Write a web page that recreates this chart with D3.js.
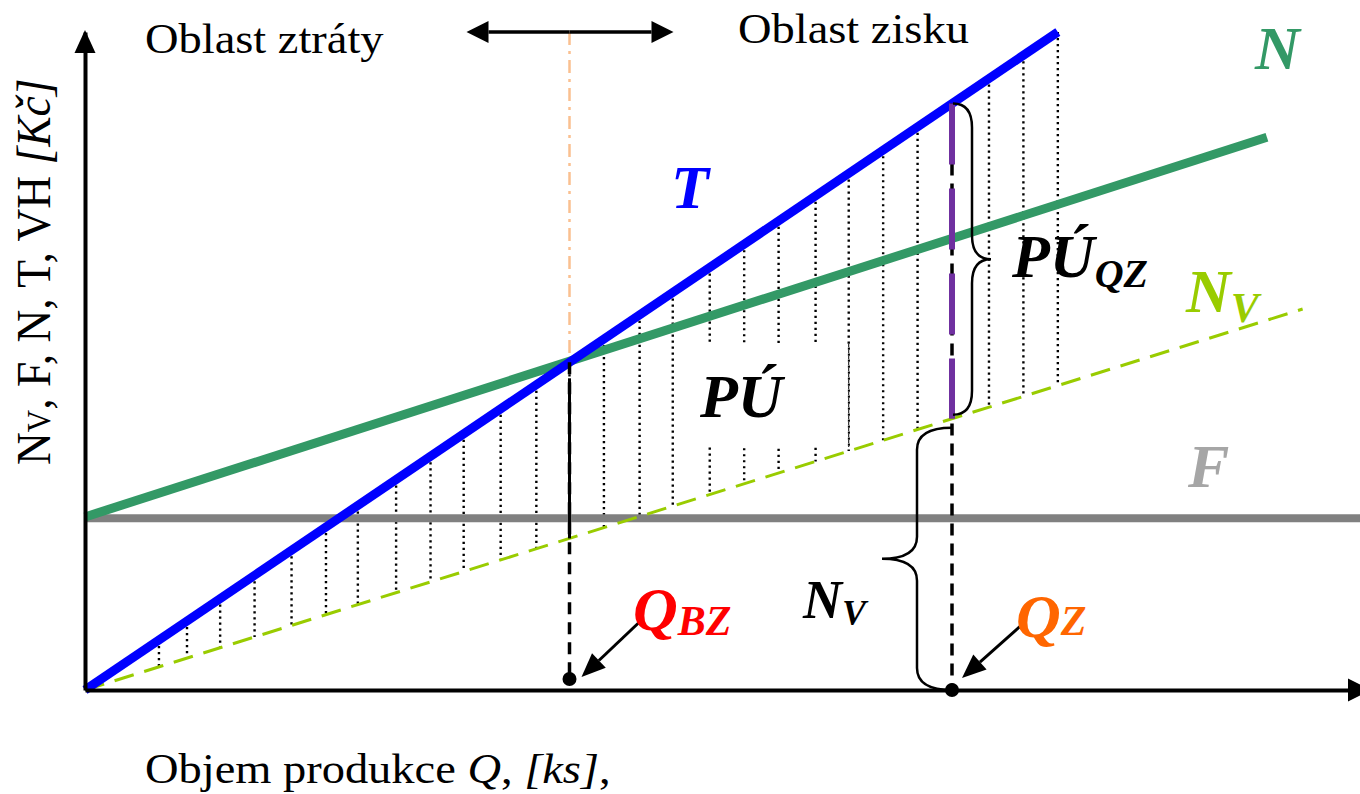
<!DOCTYPE html>
<html>
<head>
<meta charset="utf-8">
<script src="https://cdnjs.cloudflare.com/ajax/libs/d3/7.8.5/d3.min.js"></script>
<style>
  body { margin: 0; background: #fff; }
  svg { display: block; }
  text { font-family: "Liberation Serif", "Times New Roman", serif; }
</style>
</head>
<body>
<svg width="1360" height="794"></svg>
<script>
// values (Q in ks, values in Kc, both on 0..100 scales)
var qDomain = [0, 100];
var valDomain = [0, 100];
var fixedCost = 26.1;                         // F
var revenuePts = [[0, 0], [76.3, 100]];       // T
var totalCostPts = [[0, 26.3], [92.7, 84.0]]; // N
var varCostPts = [[0, 0], [95.5, 57.9]];      // Nv
var qBZ = 38.0;   // break-even
var qZ = 68.0;    // chosen volume
var hatchQ = [5.8, 8.0, 10.6, 13.3, 16.2, 18.9, 21.4, 24.4, 27.1, 29.7, 32.6, 35.4, 38.0,
              40.7, 43.5, 46.1, 49.0, 51.7, 54.4, 57.3, 59.9, 62.6, 65.3, 70.9, 73.6, 76.3];
var boxEdgeQ = 59.9;

var svg = d3.select("svg"),
    width = +svg.attr("width"),
    height = +svg.attr("height");

var x = d3.scaleLinear().domain(qDomain).range([85, 1360]);
var y = d3.scaleLinear().domain(valDomain).range([690, 32]);

function valueAt(pts, q) {
  var a = pts[0], b = pts[1];
  return a[1] + (b[1] - a[1]) * (q - a[0]) / (b[0] - a[0]);
}
var line = d3.line().x(function(d) { return x(d[0]); }).y(function(d) { return y(d[1]); });

// hatching between T and Nv
svg.append("g")
  .selectAll("line")
  .data(hatchQ)
  .enter().append("line")
    .attr("x1", function(d) { return x(d); })
    .attr("x2", function(d) { return x(d); })
    .attr("y1", function(d) { return y(valueAt(revenuePts, d)); })
    .attr("y2", function(d) { return y(valueAt(varCostPts, d)); })
    .attr("stroke", "#000")
    .attr("stroke-width", 2.4)
    .attr("stroke-dasharray", "2.2,3.8");

// white box behind PU label
var puX = 700, puY = 417;
svg.append("rect")
  .attr("x", puX - 5).attr("y", puY - 73)
  .attr("width", x(boxEdgeQ) - puX + 4).attr("height", 103)
  .attr("fill", "#fff");
svg.append("line")
  .attr("x1", x(boxEdgeQ)).attr("x2", x(boxEdgeQ))
  .attr("y1", puY - 73).attr("y2", puY + 30)
  .attr("stroke", "#000").attr("stroke-width", 1).attr("stroke-dasharray", "3,3");

// F
svg.append("path")
  .datum([[0, fixedCost], [qDomain[1], fixedCost]])
  .attr("d", line).attr("fill", "none")
  .attr("stroke", "#808080").attr("stroke-width", 8);

// Nv
svg.append("path")
  .datum(varCostPts)
  .attr("d", line).attr("fill", "none")
  .attr("stroke", "#99CC00").attr("stroke-width", 3)
  .attr("stroke-dasharray", "20,11");

// N
svg.append("path")
  .datum(totalCostPts)
  .attr("d", line).attr("fill", "none")
  .attr("stroke", "#339966").attr("stroke-width", 9);

// T
svg.append("path")
  .datum(revenuePts)
  .attr("d", line).attr("fill", "none")
  .attr("stroke", "#0000FF").attr("stroke-width", 9);

// orange dash-dot guide above break-even
var bzTop = y(valueAt(revenuePts, qBZ));
svg.append("line")
  .attr("x1", x(qBZ)).attr("x2", x(qBZ))
  .attr("y1", y(valDomain[1])).attr("y2", bzTop - 4)
  .attr("stroke", "#FAC090").attr("stroke-width", 2.5)
  .attr("stroke-dasharray", "13,6,3,6");

// break-even drop line (solid part over the hatched area, dashed below)
var bzNv = y(valueAt(varCostPts, qBZ));
svg.append("line")
  .attr("x1", x(qBZ)).attr("x2", x(qBZ))
  .attr("y1", bzTop + 16).attr("y2", bzNv)
  .attr("stroke", "#000").attr("stroke-width", 3);
svg.append("line")
  .attr("x1", x(qBZ)).attr("x2", x(qBZ))
  .attr("y1", bzTop).attr("y2", y(0) - 11)
  .attr("stroke", "#000").attr("stroke-width", 3.5)
  .attr("stroke-dasharray", "12,8");

// Qz drop line + purple profit segment
var zTop = y(valueAt(revenuePts, qZ)), zNv = y(valueAt(varCostPts, qZ));
svg.append("line")
  .attr("x1", x(qZ)).attr("x2", x(qZ))
  .attr("y1", zTop).attr("y2", y(0))
  .attr("stroke", "#000").attr("stroke-width", 3.5)
  .attr("stroke-dasharray", "12,8");
svg.append("line")
  .attr("x1", x(qZ)).attr("x2", x(qZ))
  .attr("y1", zTop).attr("y2", zNv)
  .attr("stroke", "#7030A0").attr("stroke-width", 6)
  .attr("stroke-dasharray", "61,24");

// curly braces
function brace(bx, y1, y2, dir, q, d, r) {
  var ym = (y1 + y2) / 2, xq = bx + dir * q, xd = bx + dir * d;
  return "M" + bx + "," + y1 +
    "Q" + xq + "," + y1 + " " + xq + "," + (y1 + r) +
    "L" + xq + "," + (ym - r) +
    "Q" + xq + "," + ym + " " + xd + "," + ym +
    "Q" + xq + "," + ym + " " + xq + "," + (ym + r) +
    "L" + xq + "," + (y2 - r) +
    "Q" + xq + "," + y2 + " " + bx + "," + y2;
}
svg.append("path")
  .attr("d", brace(x(qZ) + 1, zTop, zNv - 4, 1, 19, 38, 24))
  .attr("fill", "none").attr("stroke", "#000").attr("stroke-width", 2.5);
svg.append("path")
  .attr("d", brace(x(qZ), zNv + 9, y(0), -1, 35, 70, 22))
  .attr("fill", "none").attr("stroke", "#000").attr("stroke-width", 2.5);

// axes
var gx = svg.append("g").attr("transform", "translate(0," + y(0) + ")")
  .call(d3.axisBottom(x).tickValues([]).tickSizeOuter(0));
var gy = svg.append("g").attr("transform", "translate(" + x(0) + ",0)")
  .call(d3.axisLeft(y).tickValues([]).tickSizeOuter(0));
svg.selectAll(".domain").attr("stroke", "#000").attr("stroke-width", 4);
svg.append("path")
  .attr("d", "M" + x(0) + "," + (y(valDomain[1]) - 2) + "l-10.5,23h21z").attr("fill", "#000");
svg.append("path")
  .attr("d", "M1371," + y(0) + "l-23,-11.5v23z").attr("fill", "#000");

// points on the Q axis
svg.append("circle").attr("cx", x(qBZ)).attr("cy", y(0) - 11).attr("r", 7).attr("fill", "#000");
svg.append("circle").attr("cx", x(qZ)).attr("cy", y(0)).attr("r", 7).attr("fill", "#000");

// arrows
function arrow(sx, sy, tx, ty, L, w, sw) {
  var dx = tx - sx, dy = ty - sy, len = Math.sqrt(dx * dx + dy * dy);
  var ux = dx / len, uy = dy / len, nx = -uy, ny = ux;
  var bx = tx - ux * L, by = ty - uy * L;
  svg.append("line").attr("x1", sx).attr("y1", sy).attr("x2", bx).attr("y2", by)
    .attr("stroke", "#000").attr("stroke-width", sw);
  svg.append("path")
    .attr("d", "M" + tx + "," + ty + "L" + (bx + nx * w) + "," + (by + ny * w) +
      "L" + (bx - nx * w) + "," + (by - ny * w) + "Z")
    .attr("fill", "#000");
}
arrow(x(qBZ) + 70, y(0) - 68, x(qBZ) + 12, y(0) - 13, 24, 10, 3);
arrow(x(qZ) + 73, y(0) - 68, x(qZ) + 10, y(0) - 12, 24, 10, 3);
// double arrow between regions
arrow(x(qBZ), 32, x(qBZ) - 103, 32, 22, 11, 3.5);
arrow(x(qBZ), 32, x(qBZ) + 104, 32, 22, 11, 3.5);

// plain texts (slightly stretched horizontally like the original)
function plain(tx, ty, size, extra) {
  return svg.append("text")
    .attr("transform", "translate(" + tx + "," + ty + ") scale(1.08,1)" + (extra || ""))
    .attr("font-size", size).attr("fill", "#000");
}
plain(145, 53, 43).text("Oblast ztráty");
plain(738, 43, 43).text("Oblast zisku");
var xl = plain(145, 783, 43);
xl.append("tspan").text("Objem produkce ");
xl.append("tspan").attr("font-style", "italic").text("Q");
xl.append("tspan").text(", ");
xl.append("tspan").attr("font-style", "italic").text("[ks]");
xl.append("tspan").text(",");

var yl = plain(50, 465, 45.5, " rotate(-90)");
yl.append("tspan").text("N");
yl.append("tspan").attr("font-size", 31).text("V");
yl.append("tspan").text(", F, N, T, VH ");
yl.append("tspan").attr("font-style", "italic").text("[Kč]");

// bold italic labels
function label(tx, ty, color, main, sub, size, subSize, subDy) {
  var t = svg.append("text")
    .attr("x", tx).attr("y", ty)
    .attr("font-weight", "bold").attr("font-style", "italic")
    .attr("font-size", size).attr("fill", color);
  t.append("tspan").text(main);
  if (sub) t.append("tspan").attr("font-size", subSize).attr("dy", subDy).text(sub);
  return t;
}
label(671, 208, "#0000FF", "T", null, 62);
label(1255, 69, "#339966", "N", null, 62);
label(puX, puY, "#000", "PÚ", null, 62);
label(1012, 277, "#000", "PÚ", "QZ", 62, 40, 10);
label(1186, 312, "#99CC00", "N", "V", 62, 42, 10);
label(1188, 487, "#A6A6A6", "F", null, 62);
label(633, 630, "#FF0000", "Q", "BZ", 62, 42, 5);
label(803, 618, "#000", "N", "V", 54, 36, 7);
label(1016, 637, "#FF6600", "Q", "Z", 62, 42, -2);
</script>
</body>
</html>
